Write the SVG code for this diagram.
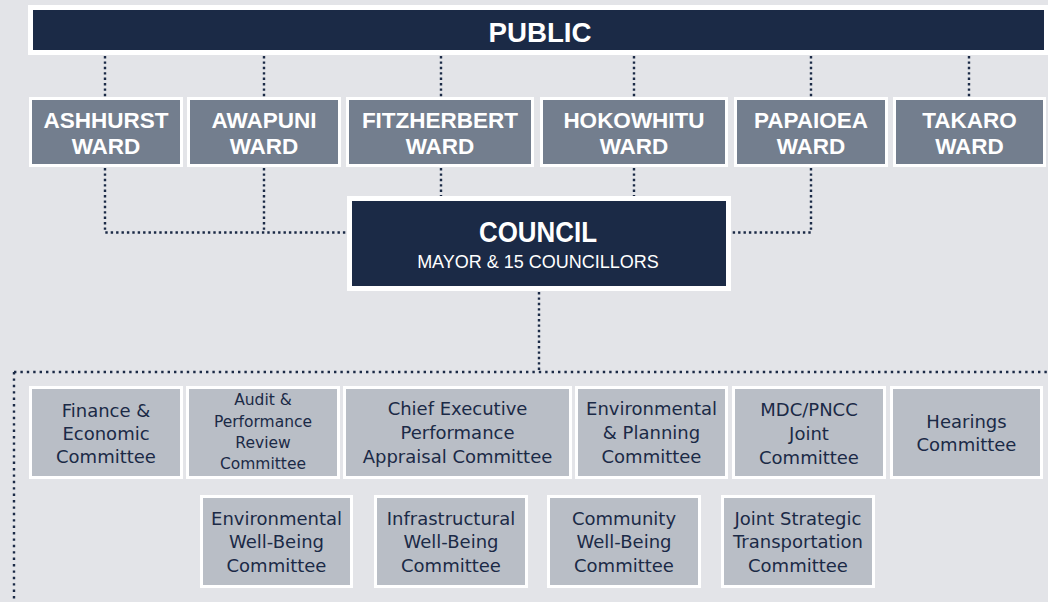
<svg xmlns="http://www.w3.org/2000/svg" width="1048" height="602" viewBox="0 0 1048 602">
<style>
.bg{fill:#e3e4e8}
.frame{fill:#ffffff}
.navy{fill:#1b2a46}
.ward{fill:#737e8e}
.com{fill:#b9bec6}
.wt{font-family:"Liberation Sans",Arial,sans-serif;font-weight:bold;font-size:22.5px;fill:#ffffff;text-anchor:middle}
.ct{font-family:"DejaVu Sans",sans-serif;font-size:18px;fill:#1b2a46;text-anchor:middle}
.cs{font-family:"DejaVu Sans",sans-serif;font-size:15.5px;fill:#1b2a46;text-anchor:middle}
.dot{stroke:#1b2a46;stroke-width:2.4;fill:none;stroke-dasharray:2.4 3}
.dot2{stroke:#1b2a46;stroke-width:2.4;fill:none;stroke-dasharray:2.4 4}
</style>
<rect class="bg" x="0" y="0" width="1048" height="602"/>

<g id="connectors">
<line class="dot" x1="105" y1="56" x2="105" y2="97"/>
<line class="dot" x1="264" y1="56" x2="264" y2="97"/>
<line class="dot" x1="441" y1="56" x2="441" y2="97"/>
<line class="dot" x1="634" y1="56" x2="634" y2="97"/>
<line class="dot" x1="811" y1="56" x2="811" y2="97"/>
<line class="dot" x1="969" y1="56" x2="969" y2="97"/>
<polyline class="dot" points="105,168 105,232.5 347,232.5"/>
<line class="dot" x1="264" y1="168" x2="264" y2="232"/>
<line class="dot" x1="441" y1="168" x2="441" y2="196"/>
<line class="dot" x1="634" y1="168" x2="634" y2="196"/>
<polyline class="dot" points="811,168 811,232.5 731,232.5"/>
<line class="dot" x1="539" y1="292" x2="539" y2="371"/>
<line class="dot2" x1="14" y1="372" x2="1048" y2="372"/>
<line class="dot2" x1="14" y1="372" x2="14" y2="602"/>
</g>

<g id="public">
<rect class="frame" x="28" y="5" width="1022" height="50"/>
<rect class="navy" x="33" y="10" width="1011" height="40"/>
<text x="540" y="42" font-family="Liberation Sans,Arial,sans-serif" font-weight="bold" font-size="28" fill="#ffffff" text-anchor="middle" textLength="103" lengthAdjust="spacingAndGlyphs">PUBLIC</text>
</g>

<g id="ward-ashhurst">
<rect class="frame" x="29" y="97" width="154" height="70"/>
<rect class="ward" x="32" y="100" width="148" height="64"/>
<text class="wt" x="106" y="128">ASHHURST</text>
<text class="wt" x="106" y="154">WARD</text>
</g>
<g id="ward-awapuni">
<rect class="frame" x="187" y="97" width="154" height="70"/>
<rect class="ward" x="190" y="100" width="148" height="64"/>
<text class="wt" x="264" y="128">AWAPUNI</text>
<text class="wt" x="264" y="154">WARD</text>
</g>
<g id="ward-fitzherbert">
<rect class="frame" x="346" y="97" width="188" height="70"/>
<rect class="ward" x="349" y="100" width="182" height="64"/>
<text class="wt" x="440" y="128">FITZHERBERT</text>
<text class="wt" x="440" y="154">WARD</text>
</g>
<g id="ward-hokowhitu">
<rect class="frame" x="540" y="97" width="188" height="70"/>
<rect class="ward" x="543" y="100" width="182" height="64"/>
<text class="wt" x="634" y="128">HOKOWHITU</text>
<text class="wt" x="634" y="154">WARD</text>
</g>
<g id="ward-papaioea">
<rect class="frame" x="734" y="97" width="154" height="70"/>
<rect class="ward" x="737" y="100" width="148" height="64"/>
<text class="wt" x="811" y="128">PAPAIOEA</text>
<text class="wt" x="811" y="154">WARD</text>
</g>
<g id="ward-takaro">
<rect class="frame" x="893" y="97" width="153" height="70"/>
<rect class="ward" x="896" y="100" width="147" height="64"/>
<text class="wt" x="969.5" y="128">TAKARO</text>
<text class="wt" x="969.5" y="154">WARD</text>
</g>

<g id="council">
<rect class="frame" x="347" y="196" width="384" height="95"/>
<rect class="navy" x="352" y="201" width="374" height="85"/>
<text x="538" y="242" font-family="Liberation Sans,Arial,sans-serif" font-weight="bold" font-size="29" fill="#ffffff" text-anchor="middle" textLength="118" lengthAdjust="spacingAndGlyphs">COUNCIL</text>
<text x="538" y="268" font-family="Liberation Sans,Arial,sans-serif" font-size="18" fill="#ffffff" text-anchor="middle">MAYOR &amp; 15 COUNCILLORS</text>
</g>

<g id="finance">
<rect class="frame" x="29" y="386" width="154" height="93"/>
<rect class="com" x="32" y="389" width="148" height="87"/>
<text class="ct" x="106" y="417">Finance &amp;</text>
<text class="ct" x="106" y="440">Economic</text>
<text class="ct" x="106" y="463">Committee</text>
</g>
<g id="audit">
<rect class="frame" x="186" y="386" width="154" height="93"/>
<rect class="com" x="189" y="389" width="148" height="87"/>
<text class="cs" x="263" y="405">Audit &amp;</text>
<text class="cs" x="263" y="427">Performance</text>
<text class="cs" x="263" y="448">Review</text>
<text class="cs" x="263" y="469">Committee</text>
</g>
<g id="chief-executive">
<rect class="frame" x="343" y="386" width="229" height="93"/>
<rect class="com" x="346" y="389" width="223" height="87"/>
<text class="ct" x="457.5" y="415">Chief Executive</text>
<text class="ct" x="457.5" y="439">Performance</text>
<text class="ct" x="457.5" y="463">Appraisal Committee</text>
</g>
<g id="env-planning">
<rect class="frame" x="575" y="386" width="153" height="93"/>
<rect class="com" x="578" y="389" width="147" height="87"/>
<text class="ct" x="651.5" y="415">Environmental</text>
<text class="ct" x="651.5" y="439">&amp; Planning</text>
<text class="ct" x="651.5" y="463">Committee</text>
</g>
<g id="mdc-pncc">
<rect class="frame" x="732" y="386" width="154" height="93"/>
<rect class="com" x="735" y="389" width="148" height="87"/>
<text class="ct" x="809" y="416">MDC/PNCC</text>
<text class="ct" x="809" y="440">Joint</text>
<text class="ct" x="809" y="464">Committee</text>
</g>
<g id="hearings">
<rect class="frame" x="890" y="386" width="153" height="93"/>
<rect class="com" x="893" y="389" width="147" height="87"/>
<text class="ct" x="966.5" y="428">Hearings</text>
<text class="ct" x="966.5" y="451">Committee</text>
</g>

<g id="env-wellbeing">
<rect class="frame" x="200" y="495" width="153" height="93"/>
<rect class="com" x="203" y="498" width="147" height="87"/>
<text class="ct" x="276.5" y="525">Environmental</text>
<text class="ct" x="276.5" y="548">Well-Being</text>
<text class="ct" x="276.5" y="572">Committee</text>
</g>
<g id="infra-wellbeing">
<rect class="frame" x="374" y="495" width="154" height="93"/>
<rect class="com" x="377" y="498" width="148" height="87"/>
<text class="ct" x="451" y="525">Infrastructural</text>
<text class="ct" x="451" y="548">Well-Being</text>
<text class="ct" x="451" y="572">Committee</text>
</g>
<g id="community-wellbeing">
<rect class="frame" x="547" y="495" width="154" height="93"/>
<rect class="com" x="550" y="498" width="148" height="87"/>
<text class="ct" x="624" y="525">Community</text>
<text class="ct" x="624" y="548">Well-Being</text>
<text class="ct" x="624" y="572">Committee</text>
</g>
<g id="joint-strategic">
<rect class="frame" x="721" y="495" width="154" height="93"/>
<rect class="com" x="724" y="498" width="148" height="87"/>
<text class="ct" x="798" y="525">Joint Strategic</text>
<text class="ct" x="798" y="548">Transportation</text>
<text class="ct" x="798" y="572">Committee</text>
</g>
</svg>
